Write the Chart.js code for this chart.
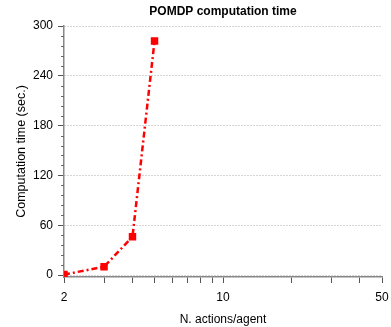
<!DOCTYPE html>
<html>
<head>
<meta charset="utf-8">
<script src="https://cdn.jsdelivr.net/npm/chart.js@4/dist/chart.umd.min.js"></script>
<style>
html,body{margin:0;padding:0;background:#fff;}
canvas{display:block;}
</style>
</head>
<body>
<canvas id="c" width="391" height="327"></canvas>
<script>
const actions = [2, 3, 4, 5];
const timesSec = [0.5, 10, 46, 282];
const xTickValues = [2, 3, 4, 5, 6, 7, 8, 9, 10, 20, 30, 40, 50];
const xTickLabels = [2, 10, 50];
const yTickValues = [0, 60, 120, 180, 240, 300];
const yMinorValues = [12, 24, 36, 48, 72, 84, 96, 108, 132, 144, 156, 168, 192, 204, 216, 228, 252, 264, 276, 288];
const chartTitle = 'POMDP computation time';
const xTitle = 'N. actions/agent';
const yTitle = 'Computation time (sec.)';

const FONT = '"Liberation Sans", Arial, Helvetica, sans-serif';

const titlePlugin = {
  id: 'centerTitle',
  afterDraw(chart) {
    const ctx = chart.ctx, a = chart.chartArea;
    ctx.save();
    ctx.font = 'bold 12px ' + FONT;
    ctx.fillStyle = '#000';
    ctx.textAlign = 'center';
    ctx.textBaseline = 'middle';
    ctx.fillText(chartTitle, (a.left + a.right) / 2, 12);
    ctx.restore();
  }
};

const minorTicks = {
  id: 'minorTicks',
  afterDraw(chart) {
    const ctx = chart.ctx, y = chart.scales.y, a = chart.chartArea;
    ctx.save();
    ctx.strokeStyle = '#666';
    ctx.lineWidth = 1;
    ctx.beginPath();
    yMinorValues.forEach(v => {
      const p = Math.round(y.getPixelForValue(v)) + 0.5;
      ctx.moveTo(a.left - 3, p);
      ctx.lineTo(a.left, p);
    });
    ctx.stroke();
    ctx.restore();
  }
};

new Chart(document.getElementById('c'), {
  type: 'line',
  data: {
    datasets: [{
      data: actions.map((x, i) => ({x: x, y: timesSec[i]})),
      borderColor: '#ff0000',
      backgroundColor: '#ff0000',
      borderWidth: 2.5,
      borderDash: [6, 3, 2, 3],
      pointStyle: 'rect',
      pointRadius: 3.5,
      pointHoverRadius: 3.5,
      tension: 0,
      fill: false
    }]
  },
  options: {
    responsive: false,
    animation: false,
    events: [],
    layout: {padding: {top: 26, right: 9, left: 0, bottom: 0}},
    plugins: {legend: {display: false}, tooltip: {enabled: false}, title: {display: false}},
    scales: {
      x: {
        type: 'logarithmic',
        min: 2, max: 50,
        afterBuildTicks(s) { s.ticks = xTickValues.map(v => ({value: v})); },
        afterFit(s) { s.height = 50; s.paddingRight = 0; s.paddingLeft = 0; },
        ticks: {
          autoSkip: false, maxRotation: 0, minRotation: 0,
          color: '#000', font: {family: FONT, size: 12}, padding: 7,
          callback: (v) => xTickLabels.includes(v) ? String(v) : ''
        },
        grid: {drawOnChartArea: false, drawTicks: true, tickLength: 6, tickColor: '#555', color: '#555'},
        border: {display: true, color: '#888', width: 1.5},
        title: {display: true, text: xTitle, color: '#000', font: {family: FONT, size: 12}, padding: {top: 4, bottom: 0}}
      },
      y: {
        type: 'linear',
        min: -2.4, max: 300,
        afterBuildTicks(s) { s.ticks = yTickValues.map(v => ({value: v})); },
        afterFit(s) { s.width = 64; },
        ticks: {color: '#000', font: {family: FONT, size: 12}, padding: 5},
        grid: {drawOnChartArea: true, drawTicks: true, tickLength: 6, tickColor: '#555', color: '#aaa', lineWidth: 1},
        border: {display: true, color: '#888', width: 1.5, dash: [1, 2]},
        title: {display: true, text: yTitle, color: '#000', font: {family: FONT, size: 12.5}, padding: {top: 14, bottom: 0}}
      }
    }
  },
  plugins: [titlePlugin, minorTicks]
});
</script>
</body>
</html>
